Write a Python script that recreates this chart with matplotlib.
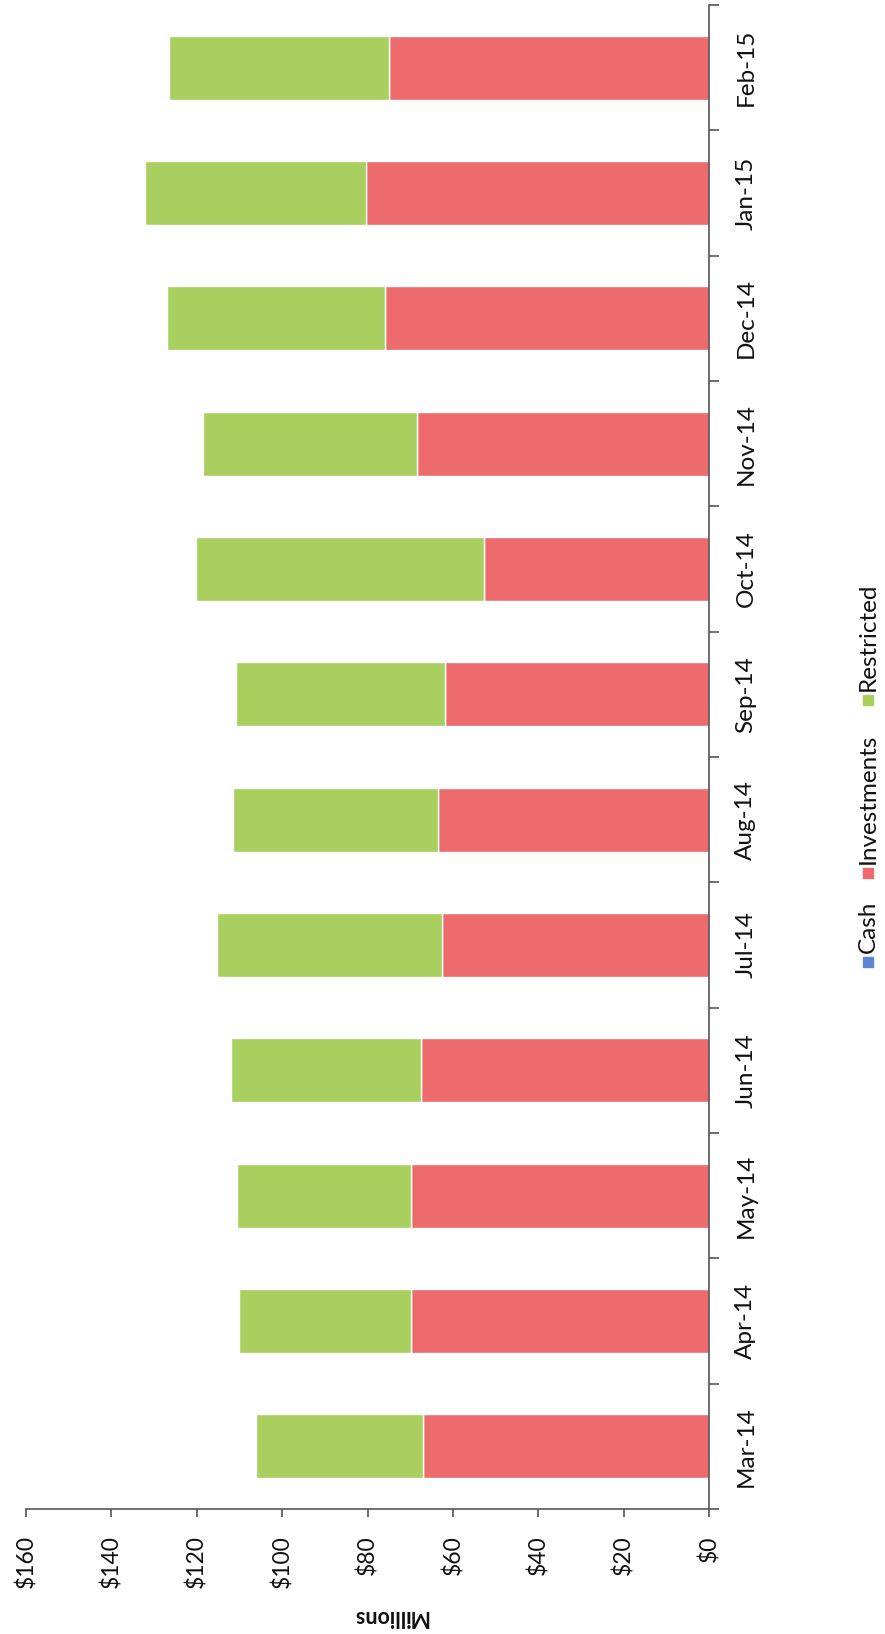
import numpy as np
import matplotlib.pyplot as plt
from matplotlib.patches import Rectangle

plt.rcParams['font.family'] = ['Lato', 'DejaVu Sans']

# data (millions of dollars)
months = ['Mar-14', 'Apr-14', 'May-14', 'Jun-14', 'Jul-14', 'Aug-14',
          'Sep-14', 'Oct-14', 'Nov-14', 'Dec-14', 'Jan-15', 'Feb-15']
cash = [0, 0, 0, 0, 0, 0, 0, 0, 0, 0, 0, 0]
investments = [67.0, 69.9, 69.8, 67.4, 62.5, 63.5, 61.8, 52.8, 68.3, 76.0, 80.4, 74.9]
restricted = [39.2, 40.2, 40.8, 44.6, 52.7, 48.0, 49.1, 67.4, 50.2, 51.0, 51.8, 51.5]
series_names = ['Cash', 'Investments', 'Restricted']
value_ticks = [0, 20, 40, 60, 80, 100, 120, 140, 160]

COLORS = ['#5B87D2', '#EE6B6D', '#A9CF5E']
AXIS_COLOR = '#555555'
TEXT_COLOR = '#111111'
W, H = 885, 1634

fig = plt.figure(figsize=(W / 100, H / 100), dpi=100)
ax = fig.add_axes([26 / W, 1 - 1509 / H, (709 - 26) / W, (1509 - 5) / H])

y = np.arange(len(months))
left = np.zeros(len(months))
for vals, color in zip([cash, investments, restricted], COLORS):
    ax.barh(y, vals, left=left, height=0.51, color=color,
            edgecolor='white', linewidth=1.0)
    left = left + np.array(vals)

ax.set_xlim(160, 0)
ax.set_ylim(-0.5, len(months) - 0.5)

for side in ['left', 'top']:
    ax.spines[side].set_visible(False)
for side in ['right', 'bottom']:
    ax.spines[side].set_color(AXIS_COLOR)
    ax.spines[side].set_linewidth(1.2)

# value axis (originally the y axis)
ax.set_xticks(value_ticks)
ax.set_xticklabels(['$%d' % v for v in value_ticks], rotation=90, va='top', ha='center')
ax.tick_params(axis='x', direction='out', length=6, width=1.2, color=AXIS_COLOR,
               labelsize=16.5, pad=13, labelcolor=TEXT_COLOR)

# category axis on the right
ax.yaxis.tick_right()
ax.set_yticks(y)
ax.set_yticklabels(months, rotation=90, va='center', ha='left')
ax.set_yticks(np.arange(-0.5, len(months), 1), minor=True)
ax.tick_params(axis='y', which='major', length=0, pad=19, labelsize=17.5, labelcolor=TEXT_COLOR)
ax.tick_params(axis='y', which='minor', direction='out', length=7, width=1.2, color=AXIS_COLOR)

fig.text(390 / W, 1 - 1616 / H, 'Millions', rotation=180, ha='center', va='center',
         fontsize=15.5, fontweight='bold', color=TEXT_COLOR)

# legend, drawn rotated like the rest of the chart
legend_marker_y = [962, 873, 700]
for name, color, my in zip(series_names, COLORS, legend_marker_y):
    fig.patches.append(Rectangle(((868 - 5) / W, 1 - (my + 5) / H), 10 / W, 10 / H,
                                 transform=fig.transFigure, color=color))
    fig.text(868 / W, 1 - (my - 9) / H, name, rotation=90, ha='center', va='bottom',
             fontsize=17.5, color=TEXT_COLOR)

fig.savefig('out.png', dpi=100, facecolor='white')
